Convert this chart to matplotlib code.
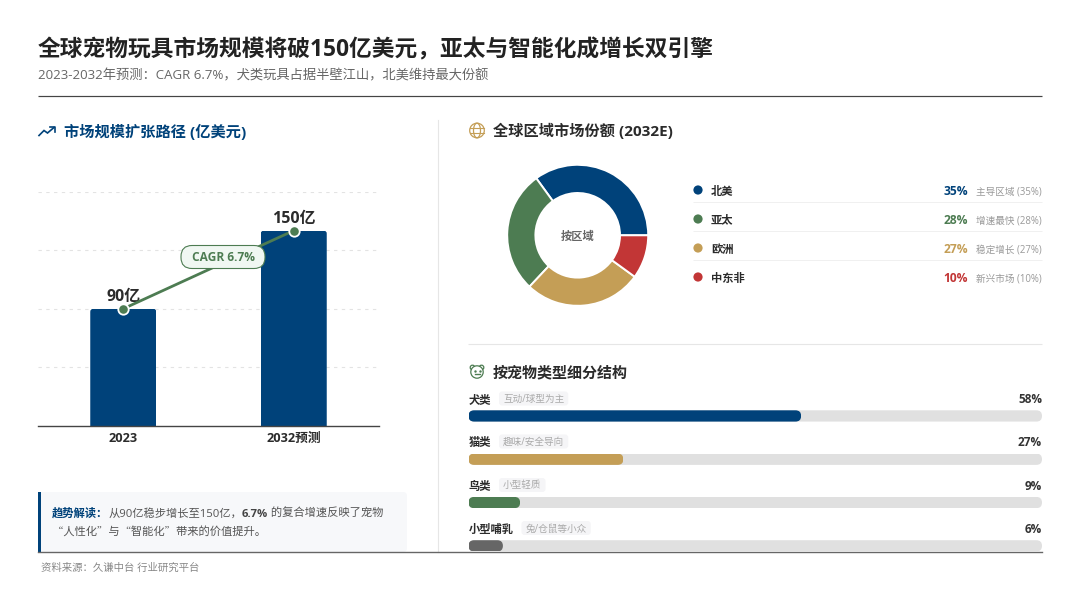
#!/usr/bin/env python3

import matplotlib as mpl

mpl.use('Agg')
import matplotlib.pyplot as plt
from matplotlib.lines import Line2D
from matplotlib.patches import Circle, Ellipse, FancyBboxPatch, Rectangle
from matplotlib.transforms import IdentityTransform

plt.rcParams['font.family'] = ['Open Sans', 'Noto Sans CJK SC', 'DejaVu Sans']

# data
years = ['2023', '2032预测']
market_size = [90, 150]
market_labels = ['90亿', '150亿']
grid_values = [45, 90, 135, 180]

regions = ['北美', '亚太', '欧洲', '中东非']
region_share = [35, 28, 27, 10]
region_notes = ['主导区域 (35%)', '增速最快 (28%)', '稳定增长 (27%)', '新兴市场 (10%)']

pets = ['犬类', '猫类', '鸟类', '小型哺乳']
pet_share = [58, 27, 9, 6]
pet_notes = ['互动/球型为主', '趣味/安全导向', '小型轻质', '兔/仓鼠等小众']

# colors
BLUE = '#00427a'
GREEN = '#4d7c52'
TAN = '#c49e56'
RED = '#c23636'
GREY = '#666666'
DARK = '#2b2b2b'
region_colors = [BLUE, GREEN, TAN, RED]
pet_colors = [BLUE, TAN, GREEN, GREY]

W, H = 1080, 608
figure = plt.figure(figsize=(W / 100, H / 100), dpi=100, facecolor='white')
renderer = figure.canvas.get_renderer()

# the canvas axes works in pixels of the picture
main = figure.add_axes([0, 0, 1, 1])
main.set_xlim(0, W)
main.set_ylim(H, 0)
main.axis('off')


def sub_axes(x0, y0, x1, y1, **kwargs):
    ax = figure.add_axes([x0 / W, 1 - y1 / H, (x1 - x0) / W, (y1 - y0) / H], **kwargs)
    ax.patch.set_alpha(0)
    return ax


def text(x, y, s, px, color=DARK, bold=False, ha='left', zorder=5, **kwargs):
    # y is the visual middle of the line
    return main.text(x, y + 0.36 * px, s, fontsize=px * 0.72, color=color, ha=ha, va='baseline',
                     fontweight='bold' if bold else 'normal', zorder=zorder, **kwargs)


def hline(x0, x1, y, color, lw=1.0, **kwargs):
    main.plot([x0, x1], [y, y], color=color, lw=lw * 0.72, solid_capstyle='butt', **kwargs)


def round_rect(x0, y0, x1, y1, r, **kwargs):
    patch = FancyBboxPatch((x0, y0), x1 - x0, y1 - y0, boxstyle='round,pad=0,rounding_size=%g' % r, **kwargs)
    main.add_patch(patch)
    return patch


def clip_round(patch, radius, extend_bottom=0):
    box = patch.get_window_extent(renderer)
    clip = FancyBboxPatch((box.x0, box.y0 - extend_bottom), box.width, box.height + extend_bottom,
                          boxstyle='round,pad=0,rounding_size=%g' % radius, transform=IdentityTransform())
    patch.set_clip_path(clip)


# header
text(38, 48, '全球宠物玩具市场规模将破150亿美元，亚太与智能化成增长双引擎', 22.7, '#222222', True)
text(38, 75, '2023-2032年预测：CAGR 6.7%，犬类玩具占据半壁江山，北美维持最大份额', 13.3, GREY)
hline(38, 1042, 96, '#444444', 1.2)

# dividers
main.plot([438, 438], [120, 552], color='#e6e6e6', lw=0.8)
hline(468, 1042, 344, '#e6e6e6', 1.1)

# left panel title with trend icon
text(64, 132, '市场规模扩张路径 (亿美元)', 15.2, BLUE, True)
main.plot([39, 44, 47.5, 54], [135.5, 130.5, 133, 127.5], color=BLUE, lw=1.2, solid_joinstyle='miter')
main.plot([50, 54.5, 54.5], [127, 127, 131.5], color=BLUE, lw=1.2)

# bar chart
ax = sub_axes(38, 191.5, 379, 426)
ax.set_xlim(-0.5, 1.5)
ax.set_ylim(0, 180)
ax.axis('off')
for value in grid_values:
    ax.axhline(value, color='#e3e3e3', lw=0.8, dashes=(3, 4), zorder=1)
positions = list(range(len(years)))
bars = ax.bar(positions, market_size, width=0.387, color=BLUE, zorder=2)
for bar in bars:
    clip_round(bar, 3, extend_bottom=10)
ax.axhline(0, color='#444444', lw=1.0, zorder=3, clip_on=False)
ax.plot(positions, market_size, color=GREEN, lw=2.0, zorder=4)
ax.plot(positions, market_size, linestyle='none', marker='o', ms=7.5, mfc=GREEN, mec='white', mew=1.3,
        zorder=5, clip_on=False)
for position, value, label in zip(positions, market_size, market_labels):
    ax.annotate(label, (position, value), xytext=(0, 2.8), textcoords='offset points', ha='center', va='bottom',
                fontsize=11.5, fontweight='bold', color=DARK, zorder=3)

for position, year in zip(positions, years):
    ax.annotate(year, (position, 0), xytext=(0, -4.5), textcoords='offset points', ha='center', va='top',
                fontsize=9.2, fontweight='bold', color=DARK, annotation_clip=False)

# CAGR pill sits on top of the sub axes
pill = FancyBboxPatch((181, 245.5), 84, 23, boxstyle='round,pad=0,rounding_size=11', fc='#f0f7f2', ec=GREEN, lw=0.8,
                      transform=main.transData, zorder=20)
figure.add_artist(pill)
figure.text(223 / W, 1 - 261.2 / H, 'CAGR 6.7%', fontsize=8.6, fontweight='bold', color=GREEN, ha='center',
            va='baseline', zorder=21)

# trend callout
round_rect(38, 492, 407, 552, 4, fc='#f7f8fa', ec='none', zorder=1)
main.add_patch(Rectangle((38, 492), 3, 60, fc=BLUE, ec='none', zorder=2))
cursor = 52
for part, color, bold in [
    ('趋势解读：', BLUE, True),
    ('从90亿稳步增长至150亿，', '#555555', False),
    ('6.7%', '#444444', True),
    (' 的复合增速反映了宠物', '#555555', False),
]:
    piece = text(cursor, 513, part, 11.3, color, bold)
    cursor += piece.get_window_extent(renderer).width
# Open Sans has narrow quotes, the reference uses the full width CJK ones
text(52, 531, '“人性化”与“智能化”带来的价值提升。', 11.3, '#555555', family=['Noto Sans CJK SC', 'DejaVu Sans'])

# source
text(41, 567, '资料来源：久谦中台 行业研究平台', 10.4, '#888888')

# right top panel title with globe icon
text(493, 131, '全球区域市场份额 (2032E)', 15.2, DARK, True)
main.add_patch(Circle((477, 130.5), 7.3, fc='none', ec=TAN, lw=0.9))
main.add_patch(Ellipse((477, 130.5), 7, 14.6, fc='none', ec=TAN, lw=0.9))
main.plot([470, 484], [128, 128], color=TAN, lw=0.8)
main.plot([470, 484], [133, 133], color=TAN, lw=0.8)

# donut
donut = sub_axes(577.7 - 70.5, 235.3 - 70.5, 577.7 + 70.5, 235.3 + 70.5)
donut.pie(region_share, colors=region_colors, startangle=0, counterclock=True, radius=1.0,
          wedgeprops={'width': 0.4, 'edgecolor': 'white', 'linewidth': 1.4})
donut.set_xlim(-1, 1)
donut.set_ylim(-1, 1)
text(577.7, 235.5, '按区域', 11.2, GREY, True, ha='center')

# legend rows
row_y = [190, 219, 248, 277]
for i, region in enumerate(regions):
    y = row_y[i]
    main.add_patch(Circle((698, y), 4.6, fc=region_colors[i], ec='none'))
    text(711, y + 0.5, region, 11.3, DARK, True)
    text(968, y + 0.5, '%d%%' % region_share[i], 12, region_colors[i], True, ha='right')
    text(1042, y + 1, region_notes[i], 9.6, '#999999', ha='right')
    if i < len(regions) - 1:
        hline(693, 1042, y + 12, '#f0f0f0', 1.0)

# right bottom panel title with bear icon
text(493, 372, '按宠物类型细分结构', 15, DARK, True)
main.add_patch(Circle((472.5, 367.5), 2.3, fc='none', ec=GREEN, lw=0.9))
main.add_patch(Circle((481.5, 367.5), 2.3, fc='none', ec=GREEN, lw=0.9))
main.add_patch(Circle((477, 372), 6.2, fc='white', ec=GREEN, lw=0.9, zorder=3))
main.plot([474.5, 479.5], [374, 374], color=GREEN, lw=1.0, zorder=4)
main.plot([474.5, 479.5], [370.5, 370.5], color=GREEN, lw=1.2, linestyle='none', marker='.', ms=1.5, zorder=4)

# progress bars, 0-100 over the full track
track = sub_axes(468.5, 416 - 21.7, 1042, 545.8 + 21.7)
track.set_xlim(0, 100)
track.set_ylim(len(pets) - 0.5, -0.5)
track.axis('off')
slots = list(range(len(pets)))
backs = track.barh(slots, [100] * len(pets), height=0.26, color='#e0e0e0')
fills = track.barh(slots, pet_share, height=0.26, color=pet_colors)
for bar in list(backs) + list(fills):
    clip_round(bar, 5.6)

label_y = [398.5, 441.5, 485, 528]
for i, pet in enumerate(pets):
    y = label_y[i]
    label = text(468.5, y + 0.5, pet, 11.3, DARK, True)
    left = 468.5 + label.get_window_extent(renderer).width + 8
    note = text(left + 4, y, pet_notes[i], 9.6, '#aaaaaa')
    right = left + 4 + note.get_window_extent(renderer).width + 4
    round_rect(left, y - 7, right, y + 7, 3, fc='#f5f5f7', ec='none', zorder=1)
    text(1042, y + 0.5, '%d%%' % pet_share[i], 11.8, '#333333', True, ha='right')

# bottom rule crosses over the last bar
figure.add_artist(Line2D([38 / W, 1042 / W], [1 - 551.5 / H, 1 - 551.5 / H], color='#666666', lw=1.0, zorder=30))

figure.savefig('out.png', dpi=100)
plt.close(figure)
